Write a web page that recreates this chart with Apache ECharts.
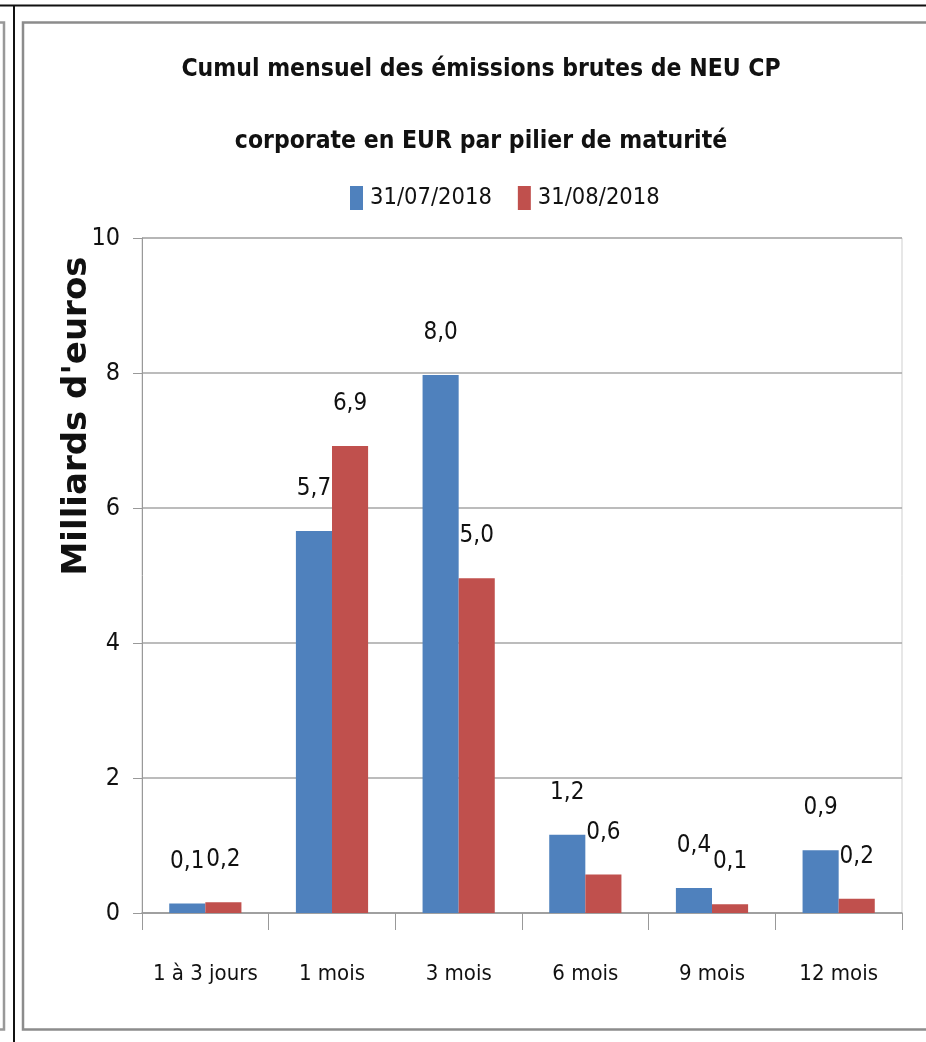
<!DOCTYPE html>
<html>
<head>
<meta charset="utf-8">
<script src="https://cdn.jsdelivr.net/npm/echarts@6/dist/echarts.min.js"></script>
<style>
html,body{margin:0;padding:0;background:#fff;}
#chart{width:926px;height:1042px;}
</style>
</head>
<body>
<div id="chart"></div>
<script>
const categories = ['1 à 3 jours', '1 mois', '3 mois', '6 mois', '9 mois', '12 mois'];
const seriesNames = ['31/07/2018', '31/08/2018'];
const values0718 = [0.14, 5.66, 7.97, 1.16, 0.37, 0.93];
const values0818 = [0.16, 6.92, 4.96, 0.57, 0.13, 0.21];
const yTicks = { min: 0, max: 10, interval: 2 };
const titleText = 'Cumul mensuel des émissions brutes de NEU CP\ncorporate en EUR par pilier de maturité';
const yAxisName = "Milliards d'euros";

const NARROW = "'Liberation Sans Narrow', 'DejaVu Sans Condensed', 'Roboto', sans-serif";
const colors = ['#4F81BD', '#C0504D'];

const chart = echarts.init(document.getElementById('chart'), null, { renderer: 'canvas' });

function fmt(p) { return p.value.toFixed(1).replace('.', ','); }

const labelCfg = {
  show: true,
  position: 'top',
  distance: 30,
  formatter: fmt,
  fontFamily: NARROW,
  fontSize: 24,
  color: '#111'
};

chart.setOption({
  animation: false,
  backgroundColor: '#fff',
  color: colors,
  title: {
    text: titleText,
    left: 476,
    top: 29,
    textAlign: 'center',
    textStyle: {
      fontFamily: NARROW,
      fontWeight: 'bold',
      fontSize: 24.5,
      lineHeight: 72,
      color: '#111'
    }
  },
  legend: {
    data: seriesNames,
    left: 350,
    top: 186,
    padding: 0,
    itemWidth: 13,
    itemHeight: 24,
    itemGap: 26,
    icon: 'rect',
    textStyle: { fontFamily: NARROW, fontSize: 23.5, color: '#111', padding: [0, 0, 0, 2] }
  },
  grid: {
    left: 142, right: 24, top: 238, bottom: 129,
    show: true, borderColor: '#cfcfcf', borderWidth: 1
  },
  xAxis: {
    type: 'category',
    data: categories,
    axisLine: { lineStyle: { color: '#999', width: 1.5 } },
    axisTick: { show: true, interval: 0, length: 17, lineStyle: { color: '#999' } },
    axisLabel: { interval: 0, fontFamily: NARROW, fontSize: 22, color: '#111', margin: 50 }
  },
  yAxis: {
    type: 'value',
    min: yTicks.min, max: yTicks.max, interval: yTicks.interval,
    axisLine: { show: true, lineStyle: { color: '#999' } },
    axisTick: { show: true, length: 9, lineStyle: { color: '#999' } },
    splitLine: { lineStyle: { color: '#a6a6a6', width: 1.5 } },
    axisLabel: { fontFamily: NARROW, fontSize: 25, color: '#111', margin: 22 }
  },
  series: [
    {
      name: seriesNames[0], type: 'bar', data: values0718,
      barGap: '0%', barCategoryGap: '43%',
      label: labelCfg
    },
    {
      name: seriesNames[1], type: 'bar', data: values0818,
      barGap: '0%', barCategoryGap: '43%',
      label: labelCfg
    }
  ],
  graphic: [
    { type: 'text', x: 77, y: 416, rotation: Math.PI / 2,
      style: { text: yAxisName, fontFamily: "'DejaVu Sans', sans-serif", fontWeight: 'bold', fontSize: 34,
               fill: '#111', textAlign: 'center', textVerticalAlign: 'middle' } },
    { type: 'line', shape: { x1: 0, y1: 5.5, x2: 926, y2: 5.5 }, style: { stroke: '#111', lineWidth: 2 } },
    { type: 'line', shape: { x1: 14, y1: 5, x2: 14, y2: 1042 }, style: { stroke: '#111', lineWidth: 2 } },
    { type: 'polyline', shape: { points: [[0, 22.5], [4, 22.5], [4, 1029.5], [0, 1029.5]] }, style: { stroke: '#999', lineWidth: 2.5, fill: null } },
    { type: 'polyline', shape: { points: [[926, 22.5], [23, 22.5], [23, 1029.5], [926, 1029.5]] }, style: { stroke: '#8c8c8c', lineWidth: 2.5, fill: null } }
  ]
});
</script>
</body>
</html>
